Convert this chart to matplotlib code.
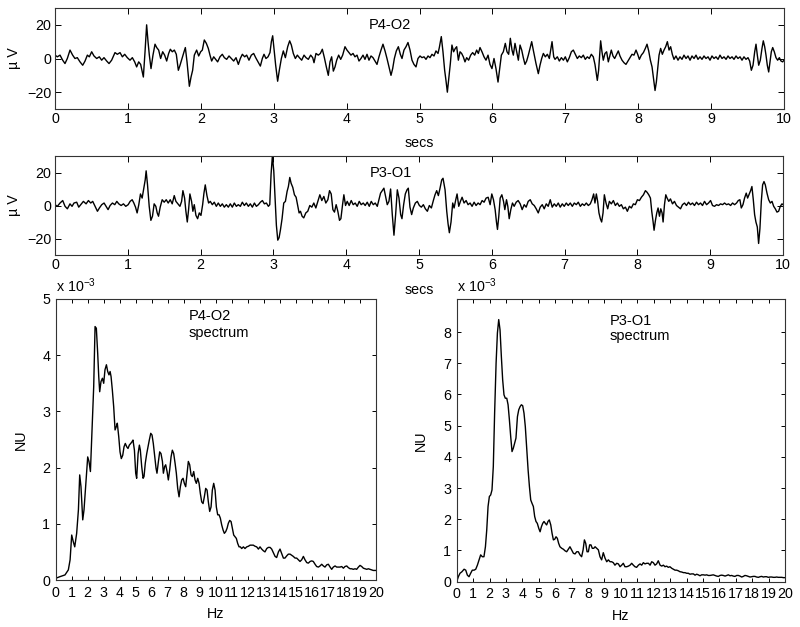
import matplotlib
matplotlib.use("Agg")
import matplotlib.pyplot as plt

plt.rcParams['font.family'] = ['Liberation Sans', 'DejaVu Sans']
plt.rcParams['mathtext.fontset'] = 'custom'
plt.rcParams['mathtext.rm'] = 'Liberation Sans'
plt.rcParams['mathtext.it'] = 'Liberation Sans'

# ---------------- P4-O2 trace (time in s, amplitude in microvolts) ----------------
p4o2_t = [
    0.000,0.032,0.069,0.105,0.137,0.169,0.206,0.242,0.274,0.306,
    0.343,0.380,0.412,0.444,0.471,0.503,0.535,0.572,0.608,0.640,
    0.672,0.709,0.741,0.777,0.823,0.855,0.892,0.924,0.956,0.992,
    1.029,1.061,1.093,1.120,1.148,1.175,1.212,1.235,1.257,1.276,
    1.294,1.317,1.344,1.372,1.395,1.422,1.449,1.477,1.504,1.532,
    1.559,1.582,1.609,1.637,1.664,1.692,1.715,1.742,1.770,1.788,
    1.811,1.843,1.866,1.888,1.911,1.943,1.971,1.998,2.021,2.048,
    2.076,2.103,2.126,2.149,2.177,2.204,2.231,2.263,2.295,2.323,
    2.355,2.387,2.419,2.451,2.483,2.515,2.542,2.570,2.602,2.629,
    2.661,2.693,2.725,2.753,2.785,2.817,2.844,2.867,2.894,2.922,
    2.949,2.968,2.986,3.004,3.027,3.054,3.077,3.105,3.132,3.160,
    3.192,3.219,3.242,3.269,3.297,3.324,3.352,
    3.384,3.416,3.443,3.475,3.507,3.535,3.553,3.580,3.612,3.640,
    3.667,3.695,3.722,3.749,3.772,3.795,3.818,3.841,3.864,3.891,
    3.919,3.946,3.978,4.005,4.033,4.060,4.088,4.115,4.143,4.170,
    4.197,4.225,4.252,4.280,4.307,4.335,4.362,4.390,4.417,4.444,
    4.472,4.499,4.527,4.554,4.582,4.609,4.632,4.655,4.682,4.710,
    4.737,4.760,4.787,4.815,4.842,4.870,4.897,4.924,4.952,4.979,
    5.007,5.034,5.062,5.089,5.117,5.144,5.171,5.199,5.226,5.254,
    5.272,5.299,5.322,5.345,5.363,5.382,5.404,5.423,5.445,5.468,
    5.491,5.510,5.533,5.556,5.578,5.601,5.624,5.647,5.674,5.702,
    5.729,5.757,5.784,5.807,5.830,5.857,5.885,5.912,5.940,5.967,
    5.994,6.022,6.049,6.077,6.100,6.123,6.150,6.177,6.200,6.223,
    6.246,6.269,6.287,6.310,6.333,6.356,6.379,6.402,6.424,6.447,
    6.470,6.493,6.516,6.539,6.561,
    6.598,6.630,6.653,6.676,6.699,6.726,6.754,6.781,6.799,6.818,
    6.841,6.859,6.891,6.918,6.946,6.974,7.000,7.028,7.055,7.083,
    7.110,7.137,7.165,7.192,7.220,7.247,7.274,7.302,7.329,7.357,
    7.384,7.407,7.425,7.439,7.457,7.471,7.485,7.503,7.521,7.544,
    7.567,7.590,7.613,7.631,7.654,7.677,7.705,7.727,7.750,7.778,
    7.805,7.832,7.860,7.887,7.915,7.942,7.970,7.993,8.016,8.043,
    8.071,8.098,8.121,8.144,8.167,8.190,8.208,8.231,8.249,8.267,
    8.286,8.308,8.331,8.354,8.377,8.400,8.423,8.445,8.468,8.491,
    8.518,8.546,8.573,8.601,8.628,8.656,8.683,8.711,8.738,8.766,
    8.793,8.820,8.848,8.875,8.903,8.930,8.958,8.985,9.012,9.040,
    9.067,9.095,9.122,9.150,9.177,9.205,9.232,9.259,9.287,9.314,
    9.342,9.369,9.397,9.424,9.451,9.479,9.506,9.529,9.552,9.575,
    9.598,9.616,9.634,9.653,9.675,9.698,9.716,9.735,9.753,9.771,
    9.790,9.808,9.826,9.845,9.867,9.890,9.913,9.936,9.959,9.982,
    10.0]
p4o2_uv = [
    2,1,2,-1,-3,0,5,2,0,0.5,
    -2,-4,-1.5,2,1,4,1.5,0,1,-1,
    0.5,-1.5,-3,-1,3.5,2.5,3.5,1,2.5,0.5,
    -1,0.5,-2,-5,-2,-3.5,-11,4,20,10,
    2,-6,2,8.5,6.5,5,0,4,2,-1.5,
    3,5.5,4,5,2.5,-7,-4,0,4,6.5,
    -2,-16.5,-11,-7,2,5,1.5,4,5,11,
    9,6,2,-1.5,1,-0.5,-2,1,2.5,0.5,
    -0.5,1.5,0,-1.5,0.5,-3.5,0,2.5,1,2,
    -1,2,3,0.5,-2,-4.5,0,2.5,0,1,
    3.5,10,13.5,6,-4,-13.5,-7,0,4.5,0.5,
    7,10.5,8,3,0,2,0.5,
    -1,2,0.5,-0.5,2,0.5,-2.5,3,2,3,
    5.5,0.5,-5,-10,-2,1,-7.5,-5,-1,2,
    -0.5,2,7,5,3.5,2,3,1,2,-1.5,
    0,2,-0.5,2.5,-1,1.5,0.5,-1.5,-3.5,1,
    5,8.5,4.5,0,-5,-10,-6,0,4.5,7,
    2.5,0,5,7,9.5,5,-1,-3.5,-5,0,
    1.5,0.5,1,-0.5,1.5,0.5,2.5,1.5,4.5,3,
    6.5,13,4,-7,-13,-20,-11,-3,8,4,
    6,7,-1,4,3,1,-2,0.5,-1,2,
    3.5,2,5,3,6.5,4,1,-1,2,-3.5,
    -6,0,-6,-14,-6,2,4,9,4,2.5,
    12,5,2,9,4,-1,8,5,0.5,-3.5,
    -1.5,2,6,10,5,
    -3,-9,-4,0,3,1,2.5,0,5,10,
    1,-0.5,1,-1.5,0.5,-1,1,-2,0.5,4,
    5,2.5,0,1.5,0.5,2,-0.5,1,0,2.5,
    1,-3.5,-9,-13,-7,2,10.5,4,-1,3,
    4,-2,2,5,1.5,0,2.5,4.5,1.5,-1,
    -2.5,-3.5,-1.5,0.5,2.5,2,5,2.5,-0.5,2,
    3.5,6,8.5,4.5,-1,-5,-11,-19,-14,-6,
    2,6,2.5,5,7,10,5,7,2.5,-0.5,
    1.5,-1,1,-0.5,2,0,1.5,-1,1.5,0,
    2,-0.5,1,-0.5,1.5,0,1,-1,1.5,0,
    1,-0.5,2,0,1,-0.5,1.5,0,1,-0.5,
    1.5,0,1,-1,1,-0.5,0.5,-1.5,-7,-4,
    4,8.5,2,-4,-1,6,10.5,7,2,-4,
    -8,-2,4,6.5,4,0.5,-1,0.5,-1.5,-2,
    -1]

# ---------------- P3-O1 trace ----------------
p3o1_t = [
    0.000,0.032,0.069,0.106,0.138,0.170,0.206,0.234,0.261,0.298,
    0.326,0.353,0.390,0.427,0.459,0.491,0.518,0.550,0.583,0.610,
    0.642,0.674,0.702,0.729,0.757,0.789,0.821,0.849,0.876,0.908,
    0.940,0.972,1.005,1.032,1.060,1.083,1.106,1.128,1.151,1.174,
    1.197,1.220,1.239,1.252,1.271,1.294,1.317,1.339,1.362,1.385,
    1.404,1.422,1.445,1.472,1.500,1.528,1.555,1.583,1.610,1.638,
    1.661,1.688,1.716,1.739,1.757,1.780,1.798,1.817,1.835,1.853,
    1.876,1.894,1.913,1.936,1.959,1.982,2.005,2.028,2.046,2.064,
    2.087,2.110,2.133,2.161,2.188,2.216,2.243,2.271,2.298,2.326,
    2.353,2.381,2.408,2.436,2.463,2.491,2.518,2.546,2.573,2.601,
    2.628,2.656,2.683,2.711,2.739,2.766,2.794,2.821,2.849,2.876,
    2.904,2.931,2.950,2.968,2.986,3.005,3.023,3.041,3.060,3.078,
    3.096,3.119,3.142,3.165,3.188,3.206,3.225,3.243,3.266,3.289,
    3.312,3.335,3.353,
    3.372,3.394,3.417,3.445,3.472,3.500,3.528,3.555,3.583,3.610,
    3.638,3.665,3.693,3.720,3.748,3.771,3.794,3.817,3.839,3.862,
    3.885,3.908,3.927,3.950,3.968,3.991,4.014,4.041,4.069,4.096,
    4.124,4.151,4.179,4.206,4.234,4.261,4.289,4.317,4.344,4.372,
    4.399,4.427,4.450,4.472,4.495,4.518,4.541,4.564,4.587,4.610,
    4.633,4.656,4.679,4.702,4.725,4.748,4.766,4.789,4.812,4.835,
    4.853,4.876,4.899,4.922,4.950,4.977,5.005,5.032,5.060,5.087,
    5.115,5.142,5.170,5.197,5.220,5.243,5.266,5.289,5.312,5.330,
    5.358,5.381,5.399,5.417,5.440,5.463,5.482,5.505,5.523,5.546,
    5.569,5.592,5.619,5.647,5.674,5.702,5.729,5.757,5.784,5.812,
    5.839,5.867,5.894,5.922,5.950,5.977,6.000,6.023,6.046,6.064,
    6.078,6.096,6.115,6.138,6.161,6.179,6.202,6.220,6.239,6.261,
    6.284,6.307,6.335,6.362,6.390,6.417,6.445,6.472,6.500,6.528,
    6.555,6.583,6.610,6.638,
    6.665,6.693,6.720,6.748,6.775,6.803,6.830,6.858,6.885,6.913,
    6.940,6.968,6.995,7.023,7.050,7.078,7.106,7.133,7.161,7.188,
    7.216,7.243,7.271,7.298,7.326,7.353,7.376,7.399,7.417,7.436,
    7.454,7.472,7.491,7.509,7.528,7.546,7.569,7.592,7.615,7.642,
    7.670,7.697,7.725,7.752,7.780,7.807,7.835,7.862,7.890,7.917,
    7.945,7.972,8.000,8.028,8.055,8.083,8.110,8.133,8.156,8.179,
    8.197,8.216,8.229,8.248,8.266,8.284,8.303,8.321,8.339,8.353,
    8.372,8.390,8.408,8.431,8.454,8.482,8.509,8.537,8.564,8.592,
    8.619,8.647,8.674,8.702,8.729,8.757,8.784,8.812,8.839,8.867,
    8.894,8.922,8.950,8.977,9.005,9.032,9.060,9.087,9.115,9.142,
    9.170,9.197,9.225,9.252,9.280,9.307,9.335,9.362,9.385,9.408,
    9.427,9.450,9.472,9.495,9.514,9.532,9.555,9.573,9.592,9.610,
    9.628,9.647,9.665,9.683,9.702,9.720,9.739,9.757,9.780,9.803,
    9.826,9.849,9.872,9.894,9.917,9.940,9.963,9.986,10.0]
p3o1_uv = [
    0.5,-0.5,1.5,3,-0.5,-2,1,-0.5,1.5,2,
    -1,0.5,2.5,1,3,1.5,2.5,-0.5,-3.5,-1.5,
    0.5,1.5,-0.5,-2.5,0,1.5,0.5,2.5,1,0,
    1,-0.5,0.5,2.5,3.5,1.5,-1,-4.5,0.5,7,
    4.5,10.5,15.5,21,12.5,-0.5,-9,-6.5,1,-0.5,
    -4.5,-6.5,-1,3.5,2,3.5,1.5,3.5,1,6,
    2.5,1,-0.5,2.5,9,4.5,-3.5,-10,-2.5,7,
    2.5,-3.5,0.5,-6,-8,-4.5,-6,0.5,7.5,12.5,
    6,1.5,2.5,0.5,2,-0.5,1.5,-0.5,1,-1,
    0.5,-1,1,-1,1.5,-0.5,0.5,-0.5,2,0,
    1.5,-0.5,1,-1,1.5,-0.5,0.5,2,3,1,
    1.5,-0.5,0.5,19,30,21,4.5,-12,-21,-19.5,
    -15,-8,1.5,2.5,8.5,11.5,17,13.5,11,6.5,
    5,-0.5,-4.5,
    -3.5,-6.5,-7.5,-4.5,-3.5,0,-1,1.5,-1.5,2.5,
    6.5,3,5.5,1.5,3.5,9,7,-2.5,-4,0.5,
    -3.5,-9,-8,0.5,6.5,0,2.5,0,3,0.5,
    1.5,-0.5,2.5,0.5,1.5,0,2,-0.5,2.5,0.5,
    1.5,-0.5,3.5,7.5,9,10.5,5.5,0.5,2.5,10,
    -5.5,-18,-5.5,9.5,4.5,-5.5,-8,0.5,7,9.5,
    10.5,-1,-5.5,-1.5,1.5,2.5,0,-1,0.5,-2,
    -3.5,0,-1.5,3,6.5,9,6,10.5,15.5,16.5,
    9.5,-3.5,-11,-16.5,-10,1.5,-1.5,3.5,7,-0.5,
    2.5,5,1.5,3,0.5,1.5,-0.5,2,0,1.5,
    0.5,3,2,4.5,5,0.5,7,3.5,-2.5,-10,
    -14.5,-6.5,4.5,6.5,2.5,-2.5,3.5,-0.5,-8,-2.5,
    1.5,-0.5,2,3,1,-2.5,0.5,-1,2.5,3.5,
    1,0,-2,-4.5,
    -1,0.5,-2,1,-0.5,3.5,-1,1,-0.5,1.5,
    -1,1,-0.5,1.5,0,1.5,-0.5,1.5,0.5,2,
    -0.5,1,0,1.5,0,1,3.5,7,1.5,7,
    2.5,-4.5,-8,-10,-4.5,6.5,1.5,-2,2.5,1,
    3,0,1.5,-0.5,0.5,-2,-1,-3.5,-0.5,-1.5,
    1,0.5,3.5,3,5,6.5,9,8,6.5,4.5,
    -3.5,-10,-15,-9,-4.5,-1.5,-6.5,-2,-4.5,-10,
    0.5,6.5,4.5,2.5,4,1,2.5,0,-1,-2,
    0.5,1.5,0,2,0.5,1.5,0,2,0.5,1.5,
    0,2.5,0.5,1.5,3,0,-0.5,0.5,0,1,
    0.5,1.5,0.5,1,0,1.5,0.5,1.5,3,3.5,
    -1.5,0.5,4.5,7.5,4.5,6.5,9,11.5,3.5,-5.5,
    -10,-13,-23,-14,2.5,12.5,14.5,12.5,7.5,3.5,
    1.5,2.5,-0.5,-2,-4,-3.5,-0.5,1,0.5]

# ---------------- spectra (Hz, NU in units of 1e-3) ----------------
p4o2_hz = [
    0.00,0.27,0.58,0.79,0.90,1.00,1.10,1.19,1.31,1.42,
    1.50,1.58,1.69,1.77,1.90,2.00,2.08,2.17,2.27,2.375,
    2.46,2.54,2.625,2.69,2.75,2.83,2.92,3.00,3.08,3.17,
    3.25,3.33,3.40,3.46,3.54,3.625,3.71,3.79,3.85,3.94,
    4.02,4.10,4.19,4.27,4.35,4.44,4.52,4.60,4.69,4.77,
    4.83,4.92,5.00,5.06,5.15,5.23,5.29,5.375,5.46,5.52,
    5.60,5.69,5.77,5.85,5.94,6.02,6.10,6.19,6.27,6.33,
    6.42,6.50,6.58,6.67,6.73,6.81,6.875,6.96,7.04,7.125,
    7.21,7.29,7.375,7.46,7.54,7.625,7.71,7.79,7.875,7.96,
    8.04,8.125,8.21,8.29,8.375,8.46,8.54,8.625,8.71,8.79,
    8.875,8.96,9.04,9.125,9.21,9.29,9.375,9.46,9.54,9.625,
    9.71,9.79,9.875,9.96,10.04,10.125,10.21,10.29,10.375,10.46,
    10.54,10.625,10.71,10.79,10.875,10.96,11.04,11.125,11.21,11.29,
    11.375,11.46,11.54,11.625,11.73,11.83,11.94,12.04,12.15,12.25,
    12.35,12.46,12.56,12.67,12.77,12.875,12.98,13.08,13.19,13.29,
    13.40,13.50,13.60,13.71,13.81,13.92,14.02,14.125,14.23,14.33,
    14.44,14.54,14.65,14.75,14.85,14.96,15.06,15.17,15.27,15.375,
    15.48,15.58,15.69,15.79,15.90,16.00,16.10,16.21,16.31,16.42,
    16.52,16.625,16.73,16.83,16.94,17.04,17.15,17.25,17.35,17.46,
    17.56,17.67,17.77,17.875,17.98,18.08,18.19,18.29,18.40,18.50,
    18.60,18.71,18.81,18.92,19.02,19.125,19.23,19.33,19.44,19.54,
    19.65,19.75,19.85,20.00]
p4o2_nu = [
    0.03,0.06,0.09,0.18,0.36,0.80,0.68,0.59,0.83,1.25,
    1.87,1.66,1.07,1.25,1.78,2.19,2.11,1.93,2.67,3.44,
    4.51,4.48,4.03,3.62,3.35,3.53,3.59,3.50,3.74,3.83,
    3.71,3.65,3.71,3.62,3.38,3.08,2.67,2.73,2.79,2.55,
    2.28,2.16,2.22,2.37,2.43,2.37,2.34,2.40,2.43,2.46,
    2.49,2.31,1.90,1.81,2.25,2.40,2.31,2.02,1.81,1.84,
    2.08,2.25,2.37,2.49,2.61,2.58,2.43,2.19,1.99,1.90,
    2.11,2.28,2.25,2.11,1.90,2.02,2.05,1.93,1.78,1.96,
    2.19,2.31,2.25,2.08,1.90,1.63,1.48,1.66,1.78,1.81,
    1.72,1.66,1.90,2.11,2.05,1.87,1.84,1.93,1.78,1.72,
    1.81,1.72,1.54,1.39,1.36,1.48,1.63,1.60,1.39,1.22,
    1.30,1.60,1.72,1.60,1.30,1.16,1.16,1.10,0.98,0.89,
    0.83,0.86,0.92,1.01,1.06,1.04,0.92,0.80,0.77,0.74,
    0.65,0.59,0.59,0.56,0.59,0.56,0.59,0.60,0.62,0.62,
    0.62,0.60,0.59,0.55,0.59,0.55,0.52,0.50,0.56,0.58,
    0.58,0.55,0.49,0.42,0.40,0.50,0.55,0.47,0.39,0.39,
    0.43,0.46,0.46,0.44,0.42,0.39,0.39,0.36,0.33,0.36,
    0.42,0.36,0.31,0.30,0.33,0.34,0.33,0.28,0.24,0.23,
    0.25,0.28,0.25,0.23,0.27,0.28,0.23,0.19,0.23,0.25,
    0.23,0.23,0.23,0.24,0.21,0.24,0.25,0.22,0.20,0.20,
    0.19,0.20,0.19,0.23,0.26,0.24,0.21,0.20,0.19,0.20,
    0.19,0.18,0.17,0.17]

p3o1_hz = [
    0.00,0.10,0.20,0.32,0.45,0.55,0.65,0.75,0.85,0.95,
    1.06,1.16,1.26,1.36,1.46,1.56,1.66,1.75,1.83,1.91,
    1.99,2.07,2.15,2.23,2.31,2.40,2.48,2.56,2.64,2.72,
    2.80,2.88,2.96,3.05,3.13,3.21,3.29,3.37,3.45,3.53,
    3.61,3.70,3.78,3.86,3.94,4.02,4.10,4.18,4.26,4.35,
    4.43,4.51,4.59,4.67,4.75,4.83,4.91,5.00,5.08,5.16,
    5.24,5.32,5.40,5.48,5.56,5.64,5.73,5.81,5.89,5.97,
    6.05,6.13,6.21,6.29,6.40,6.50,6.60,6.70,6.80,6.90,
    7.00,7.11,7.21,7.31,7.41,7.51,7.61,7.70,7.78,7.86,
    7.94,8.02,8.10,8.18,8.26,8.35,8.43,8.53,8.63,8.73,
    8.83,8.93,9.04,9.14,9.24,9.34,9.44,9.54,9.64,9.75,
    9.85,9.95,10.05,10.15,10.25,10.36,10.46,10.56,10.66,10.76,
    10.86,10.96,11.07,11.17,11.27,11.37,11.47,11.57,11.68,11.78,
    11.88,11.98,12.08,12.18,12.28,12.39,12.49,12.59,12.69,12.79,
    12.89,12.99,13.10,13.20,13.30,13.40,13.50,13.60,13.71,13.81,
    13.91,14.01,14.11,14.21,14.31,14.42,14.52,14.62,14.72,14.82,
    14.92,15.03,15.13,15.23,15.33,15.43,15.53,15.63,15.74,15.84,
    15.94,16.04,16.14,16.24,16.35,16.45,16.55,16.65,16.75,16.85,
    16.95,17.06,17.16,17.26,17.36,17.46,17.56,17.66,17.77,17.87,
    17.97,18.07,18.17,18.27,18.38,18.48,18.58,18.68,18.78,18.88,
    18.98,19.09,19.19,19.29,19.39,19.49,19.59,19.70,19.80,19.90,
    20.00]
p3o1_nu = [
    0.00,0.16,0.27,0.32,0.40,0.37,0.21,0.16,0.27,0.37,
    0.37,0.40,0.53,0.70,0.86,0.80,0.80,1.12,1.66,2.41,
    2.73,2.78,2.94,3.69,5.40,7.01,7.97,8.40,8.07,7.22,
    6.47,5.99,5.88,5.88,5.67,5.19,4.65,4.17,4.28,4.44,
    4.60,5.29,5.51,5.61,5.67,5.64,5.40,4.97,4.33,3.58,
    3.05,2.62,2.51,2.41,2.09,1.93,1.87,1.71,1.60,1.76,
    1.87,1.93,1.87,1.82,1.93,1.98,1.82,1.55,1.34,1.36,
    1.44,1.39,1.23,1.12,1.07,1.04,0.99,0.96,1.04,1.12,
    1.02,0.91,0.89,0.96,0.96,0.86,0.80,1.02,1.34,1.23,
    0.96,0.96,1.18,1.18,1.07,1.07,1.12,1.07,1.02,0.80,
    0.70,0.93,0.75,0.64,0.70,0.64,0.64,0.61,0.53,0.59,
    0.57,0.48,0.53,0.59,0.48,0.48,0.50,0.53,0.59,0.53,
    0.48,0.46,0.53,0.57,0.53,0.61,0.57,0.59,0.59,0.53,
    0.64,0.61,0.53,0.57,0.67,0.53,0.50,0.53,0.48,0.50,
    0.46,0.48,0.43,0.40,0.37,0.37,0.35,0.32,0.31,0.29,
    0.29,0.27,0.27,0.24,0.25,0.25,0.21,0.24,0.22,0.19,
    0.22,0.22,0.21,0.22,0.20,0.20,0.21,0.22,0.20,0.18,
    0.17,0.20,0.21,0.20,0.18,0.20,0.22,0.19,0.20,0.18,
    0.17,0.20,0.20,0.18,0.15,0.17,0.20,0.19,0.17,0.15,
    0.16,0.17,0.17,0.15,0.14,0.16,0.17,0.15,0.16,0.16,
    0.14,0.15,0.15,0.14,0.14,0.15,0.14,0.14,0.14,0.13,
    0.13]

trace_xticks = list(range(0, 11))
trace_yticks = [-20, 0, 20]
spec_xticks = list(range(0, 21))
left_yticks = [0, 1, 2, 3, 4, 5]
right_yticks = [0, 1, 2, 3, 4, 5, 6, 7, 8]

FS = 10.3
LC = 'black'

fig = plt.figure(figsize=(8, 6.27), dpi=100)


def style(ax, ticklen=4.0, pad=3.0):
    ax.tick_params(direction='in', top=True, right=True, length=ticklen,
                   width=0.7, labelsize=FS, pad=pad, colors='black')
    for s in ax.spines.values():
        s.set_linewidth(0.8)
        s.set_color('#333333')


# top trace
ax1 = fig.add_axes([55/800, 1-109/627, 729/800, 101/627])
ax1.plot(p4o2_t, p4o2_uv, color=LC, lw=1.0)
ax1.set_xlim(0, 10)
ax1.set_ylim(-30, 30)
ax1.set_xticks(trace_xticks)
ax1.set_yticks(trace_yticks)
style(ax1, ticklen=4.5, pad=2.5)
ax1.set_ylabel('\u00b5 V', fontsize=FS)
ax1.yaxis.set_label_coords(-0.047, 0.5)
ax1.set_xlabel('secs', fontsize=FS)
ax1.xaxis.set_label_coords(0.5, -0.27)
ax1.text(4.6, 20, 'P4-O2', fontsize=10.5, ha='center', va='center')

# second trace
ax2 = fig.add_axes([55/800, 1-255/627, 728/800, 99/627])
ax2.plot(p3o1_t, p3o1_uv, color=LC, lw=1.0)
ax2.set_xlim(0, 10)
ax2.set_ylim(-30, 30)
ax2.set_xticks(trace_xticks)
ax2.set_yticks(trace_yticks)
style(ax2, ticklen=4.5, pad=2.5)
ax2.set_ylabel('\u00b5 V', fontsize=FS)
ax2.yaxis.set_label_coords(-0.047, 0.5)
ax2.set_xlabel('secs', fontsize=FS)
ax2.xaxis.set_label_coords(0.5, -0.28)
ax2.text(4.62, 19.5, 'P3-O1', fontsize=10.5, ha='center', va='center')

# left spectrum
ax3 = fig.add_axes([55.7/800, 1-580/627, 320/800, 281/627])
ax3.plot(p4o2_hz, p4o2_nu, color=LC, lw=1.0)
ax3.set_xlim(0, 20)
ax3.set_ylim(0, 5)
ax3.set_xticks(spec_xticks)
ax3.set_yticks(left_yticks)
style(ax3, ticklen=3.0, pad=4.0)
ax3.set_ylabel('NU', fontsize=FS)
ax3.yaxis.set_label_coords(-0.087, 0.5)
ax3.set_xlabel('Hz', fontsize=FS)
ax3.xaxis.set_label_coords(0.5, -0.095)
ax3.text(0.0, 1.015, 'x 10$^{-3}$', transform=ax3.transAxes, fontsize=FS,
         ha='left', va='bottom')
ax3.text(8.33, 4.69, 'P4-O2', fontsize=10.5, ha='left', va='center')
ax3.text(8.33, 4.39, 'spectrum', fontsize=10.5, ha='left', va='center')

# right spectrum
ax4 = fig.add_axes([456.7/800, 1-581.7/627, 328.3/800, (581.7-299)/627])
ax4.plot(p3o1_hz, p3o1_nu, color=LC, lw=1.0)
ax4.set_xlim(0, 20)
ax4.set_ylim(0, 9.06)
ax4.set_xticks(spec_xticks)
ax4.set_yticks(right_yticks)
style(ax4, ticklen=3.0, pad=4.0)
ax4.set_ylabel('NU', fontsize=FS)
ax4.yaxis.set_label_coords(-0.087, 0.5)
ax4.set_xlabel('Hz', fontsize=FS)
ax4.xaxis.set_label_coords(0.5, -0.095)
ax4.text(0.0, 1.015, 'x 10$^{-3}$', transform=ax4.transAxes, fontsize=FS,
         ha='left', va='bottom')
ax4.text(9.3, 8.34, 'P3-O1', fontsize=10.5, ha='left', va='center')
ax4.text(9.3, 7.86, 'spectrum', fontsize=10.5, ha='left', va='center')

fig.savefig('out.png', dpi=100)
